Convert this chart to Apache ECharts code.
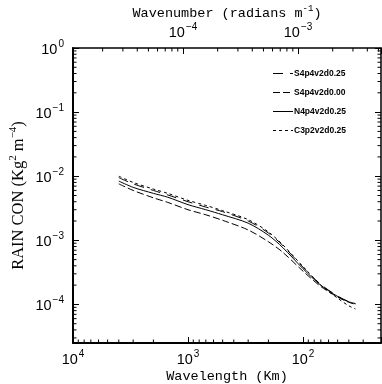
<!DOCTYPE html>
<html><head><meta charset="utf-8">
<script src="https://cdn.jsdelivr.net/npm/echarts@6/dist/echarts.min.js"></script>
<style>html,body{margin:0;padding:0;background:#fff}#c{width:382px;height:384px}</style>
</head><body><div id="c"></div>
<script>
// Wavelength samples (km)
const wavelengths = [4000, 3000, 2000, 1500, 1000, 700, 500, 300, 200, 150, 100, 70, 50, 40, 35];
// Series values (Kg^2 m^-4)
const s4p4v2d025 = [9.5e-3, 7.6e-3, 6.0e-3, 5.1e-3, 4.0e-3, 3.3e-3, 2.8e-3, 2.0e-3, 1.3e-3, 8.3e-4, 3.8e-4, 2.05e-4, 1.35e-4, 1.1e-4, 1.02e-4];
const s4p4v2d000 = [7.6e-3, 6.0e-3, 4.6e-3, 3.9e-3, 3.0e-3, 2.5e-3, 2.05e-3, 1.45e-3, 9.5e-4, 6.5e-4, 3.3e-4, 1.9e-4, 1.3e-4, 1.08e-4, 1.0e-4];
const n4p4v2d025 = [8.4e-3, 6.7e-3, 5.4e-3, 4.7e-3, 3.6e-3, 3.0e-3, 2.5e-3, 1.85e-3, 1.2e-3, 7.7e-4, 3.6e-4, 1.99e-4, 1.33e-4, 1.1e-4, 1.03e-4];
const c3p2v2d025 = [1.0e-2, 8.0e-3, 6.3e-3, 5.4e-3, 4.2e-3, 3.5e-3, 2.9e-3, 2.1e-3, 1.35e-3, 8.5e-4, 3.9e-4, 2.0e-4, 1.25e-4, 9.5e-5, 8.5e-5];
const seriesNames = ['S4p4v2d0.25', 'S4p4v2d0.00', 'N4p4v2d0.25', 'C3p2v2d0.25'];
// Axis ranges
const xMin = 21, xMax = 10000;          // wavelength, km
const yMin = 2.5e-5, yMax = 1;
const kMin = 1.105e-5, kMax = 5.26e-3;  // wavenumber
// Minor ticks
const xMinorTicks = [9000,8000,7000,6000,5000,4000,3000,2000,900,800,700,600,500,400,300,200,90,80,70,60,50,40,30];
const kMinorTicks = [2e-5,3e-5,4e-5,5e-5,6e-5,7e-5,8e-5,9e-5,2e-4,3e-4,4e-4,5e-4,6e-4,7e-4,8e-4,9e-4,2e-3,3e-3,4e-3,5e-3];
const yMinorTicks = [];
[1e-1,1e-2,1e-3,1e-4,1e-5].forEach(d => { for (let m = 2; m <= 9; m++) { const v = m * d; if (v >= yMin && v < yMax) yMinorTicks.push(v); } });

const chart = echarts.init(document.getElementById('c'), null, {renderer: 'canvas'});
const SANS = 'Liberation Sans';
function powLabel(v) {
  const l = Math.log10(v), e = Math.round(l);
  if (Math.abs(l - e) > 1e-6) return '';
  return '{b|10}{s|' + (e < 0 ? '\u2212' + (-e) : e) + '}';
}
const tickRich = {
  b: {fontSize: 14.5, fontFamily: SANS, color: '#000', lineHeight: 18, verticalAlign: 'bottom'},
  s: {fontSize: 10, fontFamily: SANS, color: '#000', lineHeight: 18, verticalAlign: 'top', padding: [0, 0, 0, 1]}
};
const monoRich = {
  a: {fontSize: 13.5, fontFamily: 'Liberation Mono', color: '#000', lineHeight: 16, verticalAlign: 'bottom'},
  s: {fontSize: 9, fontFamily: 'Liberation Mono', color: '#000', lineHeight: 16, verticalAlign: 'top'}
};
const serifRich = {
  a: {fontSize: 16.5, fontFamily: 'Liberation Serif', color: '#000', lineHeight: 19, verticalAlign: 'bottom'},
  s: {fontSize: 11, fontFamily: 'Liberation Serif', color: '#000', lineHeight: 19, verticalAlign: 'top'}
};

function tickSeries(name, vals, xi, side) {
  return {
    type: 'custom', name: name, xAxisIndex: xi, yAxisIndex: 0, silent: true, clip: false,
    data: vals.map(v => [v]), z: 5,
    renderItem: function (params, api) {
      const cs = params.coordSys;
      const v = api.value(0);
      const L = 3.5;
      let shapes = [];
      if (side === 'y') {
        const y = api.coord([xi === 0 ? 1000 : 1e-4, v])[1];
        shapes.push({type: 'line', shape: {x1: cs.x, y1: y, x2: cs.x + L, y2: y}});
        shapes.push({type: 'line', shape: {x1: cs.x + cs.width, y1: y, x2: cs.x + cs.width - L, y2: y}});
      } else if (side === 'bottom') {
        const x = api.coord([v, 1e-2])[0];
        shapes.push({type: 'line', shape: {x1: x, y1: cs.y + cs.height, x2: x, y2: cs.y + cs.height - L}});
      } else {
        const x = api.coord([v, 1e-2])[0];
        shapes.push({type: 'line', shape: {x1: x, y1: cs.y, x2: x, y2: cs.y + L}});
      }
      return {type: 'group', children: shapes.map(s => Object.assign(s, {style: {stroke: '#000', lineWidth: 1}}))};
    }
  };
}

const dashes = [[10, 7], [7, 3], null, [3, 3]];
const dataSets = [s4p4v2d025, s4p4v2d000, n4p4v2d025, c3p2v2d025];

// Legend (drawn as graphic elements)
const legendGraphics = [];
seriesNames.forEach((n, i) => {
  const cy = 73.5 + i * 19;
  legendGraphics.push({type: 'line', shape: {x1: 273, y1: cy, x2: 293, y2: cy},
    style: {stroke: '#000', lineWidth: 1, lineDash: dashes[i] || null}});
  legendGraphics.push({type: 'text', x: 294, y: cy,
    style: {text: n, fill: '#000', font: 'bold 8.5px "Liberation Sans"', textVerticalAlign: 'middle', textAlign: 'left'}});
});

const option = {
  animation: false,
  backgroundColor: '#fff',
  grid: {left: 73, right: 1, top: 48, bottom: 41, containLabel: false, outerBoundsMode: 'none'},
  graphic: legendGraphics,
  xAxis: [
    {
      type: 'log', logBase: 10, min: xMin, max: xMax, inverse: true, position: 'bottom',
      name: '{a|Wavelength (Km)}', nameLocation: 'middle', nameGap: 24, nameMoveOverlap: false,
      nameTextStyle: {rich: monoRich},
      axisLine: {show: true, onZero: false, lineStyle: {color: '#000', width: 2}},
      axisTick: {show: true, inside: true, length: 6, lineStyle: {color: '#000', width: 1}},
      axisLabel: {margin: 6, formatter: powLabel, rich: tickRich},
      splitLine: {show: false}, minorTick: {show: false}
    },
    {
      type: 'log', logBase: 10, min: kMin, max: kMax, position: 'top',
      name: '{a|Wavenumber (radians m}{s|-1}{a|)}', nameLocation: 'middle', nameGap: 28, nameMoveOverlap: false,
      nameTextStyle: {rich: monoRich},
      axisLine: {show: true, onZero: false, lineStyle: {color: '#000', width: 1.5}},
      axisTick: {show: true, inside: true, length: 6, lineStyle: {color: '#000', width: 1}},
      axisLabel: {margin: 8, formatter: powLabel, rich: tickRich},
      splitLine: {show: false}
    }
  ],
  yAxis: [
    {
      type: 'log', logBase: 10, min: yMin, max: yMax, position: 'left',
      name: '{a|RAIN CON (Kg}{s|2}{a| m}{s|\u22124}{a|)}', nameLocation: 'middle', nameGap: 46, nameMoveOverlap: false,
      nameTextStyle: {rich: serifRich},
      axisLine: {show: true, onZero: false, lineStyle: {color: '#000', width: 2}},
      axisTick: {show: true, inside: true, length: 6, lineStyle: {color: '#000', width: 1}},
      axisLabel: {margin: 9, formatter: powLabel, rich: tickRich},
      splitLine: {show: false}
    },
    {
      type: 'log', logBase: 10, min: yMin, max: yMax, position: 'right',
      axisLine: {show: true, onZero: false, lineStyle: {color: '#000', width: 1.5}},
      axisTick: {show: true, inside: true, length: 6, lineStyle: {color: '#000', width: 1}},
      axisLabel: {show: false}, splitLine: {show: false}
    }
  ],
  series: dataSets.map((d, i) => ({
    type: 'line', name: seriesNames[i], xAxisIndex: 0, yAxisIndex: 0,
    symbol: 'none', smooth: 0.3, color: '#000',
    lineStyle: {color: '#000', width: 1, type: dashes[i] || 'solid'},
    data: wavelengths.map((w, j) => [w, d[j]]), z: 3
  })).concat([
    tickSeries('xminor', xMinorTicks, 0, 'bottom'),
    tickSeries('kminor', kMinorTicks, 1, 'top'),
    tickSeries('yminor', yMinorTicks, 0, 'y')
  ])
};
chart.setOption(option);
</script></body></html>
